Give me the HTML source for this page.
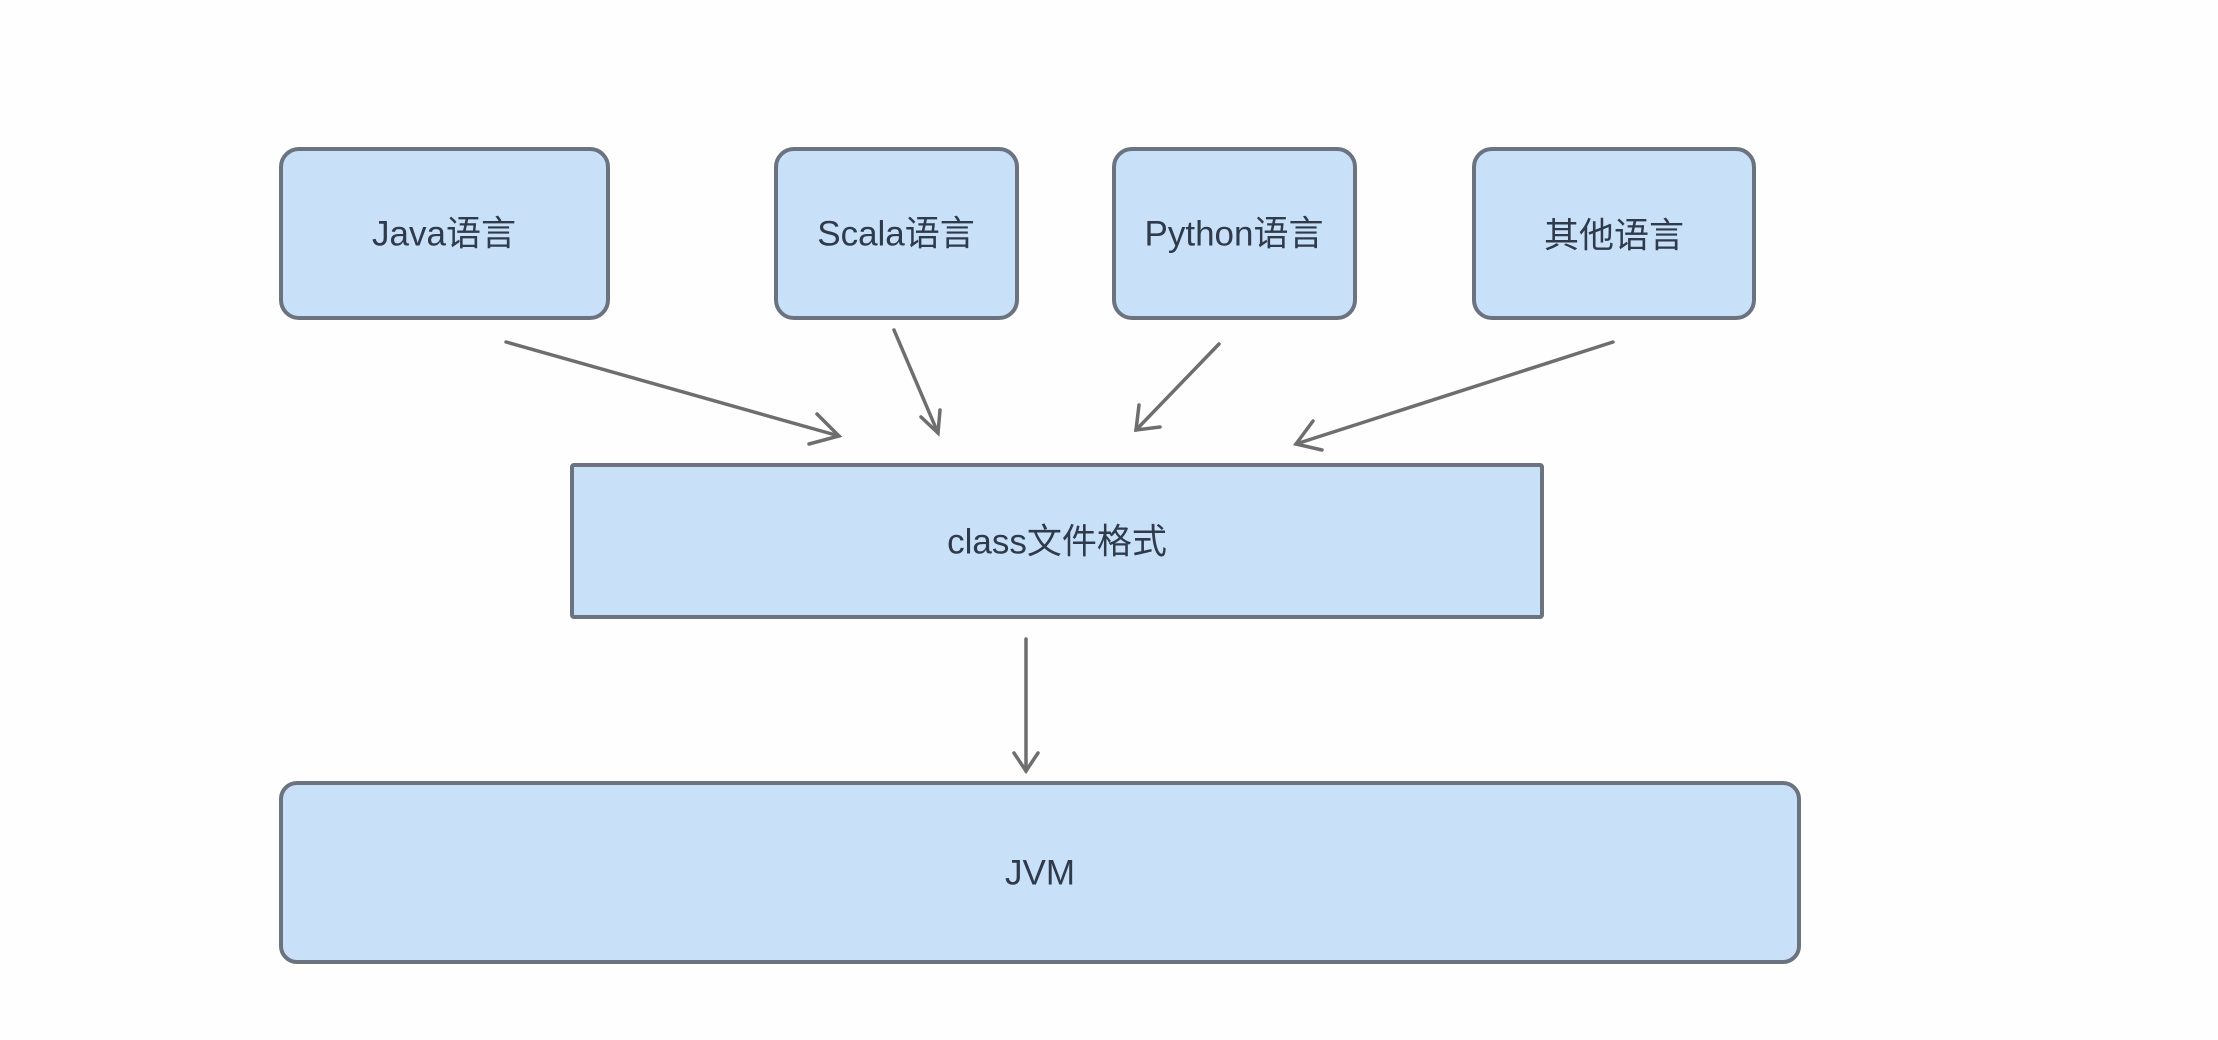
<!DOCTYPE html>
<html><head><meta charset="utf-8"><style>
html,body{margin:0;padding:0;background:#fefefe;}
svg{display:block;}
text{font-family:"Liberation Sans","Noto Sans CJK SC",sans-serif;font-size:35px;fill:#2f3a4a;text-anchor:middle;dominant-baseline:central;}
</style></head><body>
<svg width="2218" height="1040" viewBox="0 0 2218 1040">
<defs>
<marker id="ah" markerWidth="12" markerHeight="12" refX="10" refY="6" orient="auto" markerUnits="userSpaceOnUse">
</marker>
</defs>
<g fill="#c8e0f8" stroke="#6b7380" stroke-width="4">
<rect x="281" y="149" width="327" height="169" rx="18"/>
<rect x="776" y="149" width="241" height="169" rx="18"/>
<rect x="1114" y="149" width="241" height="169" rx="18"/>
<rect x="1474" y="149" width="280" height="169" rx="18"/>
<rect x="572" y="465" width="970" height="152" rx="2"/>
<rect x="281" y="783" width="1518" height="179" rx="16"/>
</g>
<text x="444" y="234">Java语言</text>
<text x="896" y="234">Scala语言</text>
<text x="1234" y="234">Python语言</text>
<text x="1614" y="236">其他语言</text>
<text x="1057" y="542">class文件格式</text>
<text x="1040" y="873">JVM</text>
<g stroke="#6e6e6e" stroke-width="3.5" fill="none" stroke-linecap="round">
<line x1="506" y1="342" x2="839" y2="436"/>
<polyline points="817,414 839,436 809,444"/>
<line x1="894" y1="330" x2="938" y2="433"/>
<polyline points="921,417 938,433 940,410"/>
<line x1="1219" y1="344" x2="1136" y2="430"/>
<polyline points="1139,405 1136,430 1160,427"/>
<line x1="1613" y1="342" x2="1296" y2="444"/>
<polyline points="1313,421 1296,444 1322,450"/>
<line x1="1026" y1="639" x2="1026" y2="771"/>
<polyline points="1014,753 1026,771 1038,753"/>
</g>
</svg>
</body></html>
